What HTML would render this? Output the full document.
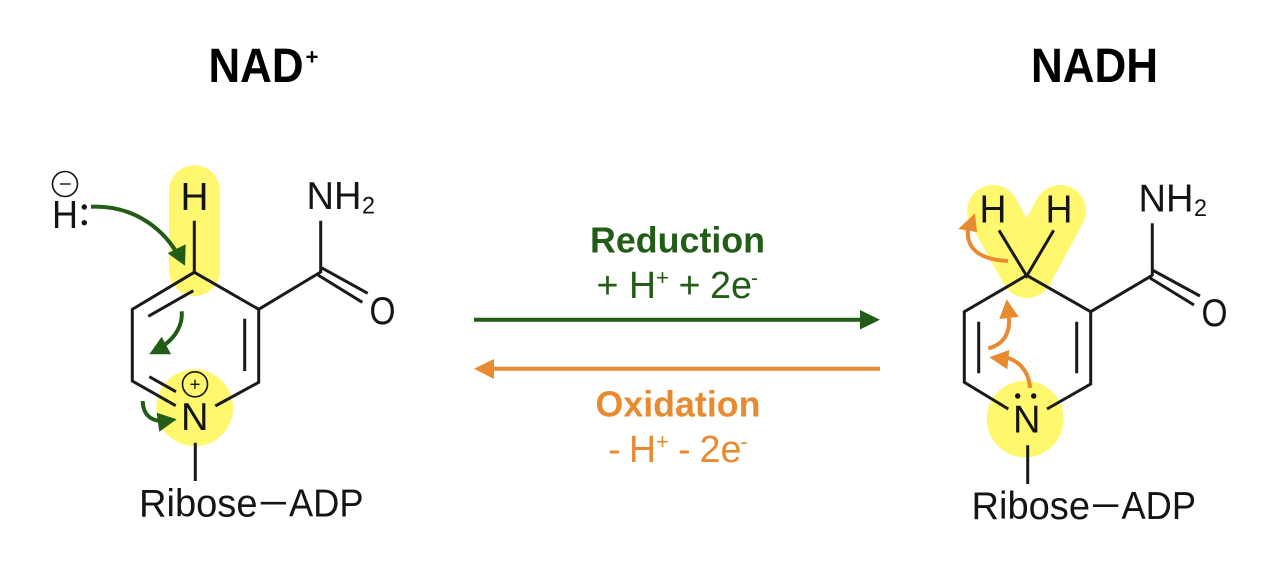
<!DOCTYPE html>
<html><head><meta charset="utf-8"><style>
html,body{margin:0;padding:0;background:#fff}
svg{display:block}
text{font-family:"Liberation Sans",sans-serif}
.k{fill:#141414;font-size:39px}
.b{stroke:#1a1a1a;stroke-width:3;fill:none;stroke-linecap:butt;stroke-linejoin:miter}
.g{fill:#225c17}.o{fill:#e88a2f}
</style></head><body>
<svg width="1280" height="568" viewBox="0 0 1280 568" xmlns="http://www.w3.org/2000/svg">
<rect width="1280" height="568" fill="#fff"/>
<!-- highlights -->
<rect x="169" y="165.3" width="51" height="130.7" rx="25.5" fill="#fff76e"/>
<circle cx="194.7" cy="407.8" r="38.4" fill="#fff76e"/>
<path d="M993,211L1027,272L1060,211" fill="none" stroke="#fff76e" stroke-width="52" stroke-linecap="round" stroke-linejoin="round"/>
<circle cx="1025.2" cy="419" r="38.4" fill="#fff76e"/>
<!-- titles -->
<text x="208.5" y="82" font-size="48" font-weight="bold" fill="#000" textLength="95" lengthAdjust="spacingAndGlyphs">NAD</text>
<text x="305.5" y="64.5" font-size="22" font-weight="bold" fill="#000" textLength="13" lengthAdjust="spacingAndGlyphs">+</text>
<text x="1031" y="82" font-size="48" font-weight="bold" fill="#000" textLength="127" lengthAdjust="spacingAndGlyphs">NADH</text>
<!-- left molecule -->
<path class="b" d="M175.7,405.7L132.3,381V309.3L194.3,272.3L258.7,309.3V382.3L215.3,406"/>
<path class="b" d="M148.3,316.3L193.3,290.7M244.7,318.7V371M149.3,376.7L176,391.7M194.3,220.7V272.3M195.3,442.7V481M258.7,309.3L320.7,272M320.7,220.7V273M320.7,267.3L367.7,293.3M318,275L362.3,302.3"/>
<text class="k" x="52" y="228" textLength="26" lengthAdjust="spacingAndGlyphs">H</text>
<circle cx="65" cy="184" r="12.5" fill="none" stroke="#141414" stroke-width="1.6"/>
<path d="M60,184H70.7" stroke="#141414" stroke-width="1.4"/>
<circle cx="84.3" cy="207" r="2.7" fill="#141414"/><circle cx="84.3" cy="222.7" r="2.7" fill="#141414"/>
<text class="k" x="180.5" y="210" textLength="28" lengthAdjust="spacingAndGlyphs">H</text>
<text class="k" x="181" y="430" textLength="27.5" lengthAdjust="spacingAndGlyphs">N</text>
<circle cx="195" cy="384.3" r="12.5" fill="none" stroke="#141414" stroke-width="1.6"/>
<path d="M190.5,384.3H199.5M195,379.8V388.8" stroke="#141414" stroke-width="1.4"/>
<text class="k" x="306.5" y="209" textLength="55" lengthAdjust="spacingAndGlyphs">NH</text>
<text x="362" y="213.3" font-size="24" fill="#141414" textLength="13" lengthAdjust="spacingAndGlyphs">2</text>
<text class="k" x="369.5" y="324" textLength="26" lengthAdjust="spacingAndGlyphs">O</text>
<text class="k" x="139" y="516.7" textLength="118.5" lengthAdjust="spacingAndGlyphs">Ribose</text>
<text class="k" x="260.7" y="513" textLength="25.3" lengthAdjust="spacingAndGlyphs">—</text>
<text class="k" x="289" y="516.7" textLength="74.5" lengthAdjust="spacingAndGlyphs">ADP</text>
<!-- left curved arrows -->
<g fill="none" stroke="#225c17" stroke-width="4">
<path d="M91,206.7C130,205 160,225 177,253"/>
<path d="M181.7,311.3C183,325 175,338 163,346"/>
<path d="M142.7,401C143,414 150,421 163,421"/>
</g>
<g class="g">
<polygon points="185,265.7 167.7,253.3 185.7,244.3"/>
<polygon points="149.3,354.3 171,354.3 161.7,336.7"/>
<polygon points="176.7,419.3 156.7,412.7 159.3,431.7"/>
</g>
<!-- center -->
<text class="g" x="590" y="252.5" font-size="36" font-weight="bold" textLength="175" lengthAdjust="spacingAndGlyphs">Reduction</text>
<text class="g" x="596.5" y="298" font-size="38" textLength="22" lengthAdjust="spacingAndGlyphs">+</text>
<text class="g" x="629" y="298" font-size="38" textLength="27" lengthAdjust="spacingAndGlyphs">H</text>
<text class="g" x="656" y="285" font-size="22" textLength="13" lengthAdjust="spacingAndGlyphs">+</text>
<text class="g" x="678.5" y="298" font-size="38" textLength="22" lengthAdjust="spacingAndGlyphs">+</text>
<text class="g" x="710" y="298" font-size="38" textLength="42" lengthAdjust="spacingAndGlyphs">2e</text>
<text class="g" x="751" y="285" font-size="22" textLength="7" lengthAdjust="spacingAndGlyphs">-</text>
<path d="M474,319.7H862" stroke="#225c17" stroke-width="4"/>
<polygon class="g" points="880,319.7 860,310 860,329.5"/>
<path d="M880,368.7H492" stroke="#e88a2f" stroke-width="4"/>
<polygon class="o" points="474,368.7 494,359 494,379"/>
<text class="o" x="595.5" y="416.7" font-size="36" font-weight="bold" textLength="165" lengthAdjust="spacingAndGlyphs">Oxidation</text>
<text class="o" x="608" y="462" font-size="38" textLength="12.6" lengthAdjust="spacingAndGlyphs">-</text>
<text class="o" x="629" y="462" font-size="38" textLength="27" lengthAdjust="spacingAndGlyphs">H</text>
<text class="o" x="656" y="449" font-size="22" textLength="13" lengthAdjust="spacingAndGlyphs">+</text>
<text class="o" x="678" y="462" font-size="38" textLength="12.6" lengthAdjust="spacingAndGlyphs">-</text>
<text class="o" x="699.5" y="462" font-size="38" textLength="42" lengthAdjust="spacingAndGlyphs">2e</text>
<text class="o" x="740.5" y="449" font-size="22" textLength="7" lengthAdjust="spacingAndGlyphs">-</text>
<!-- right molecule -->
<path class="b" d="M1008.3,409L964.3,382.3V311.7L1026.7,275.3L1090.7,311.7V384L1047,409"/>
<path class="b" d="M978.7,321.7V373.3M1076.7,321.7V373.3M999,230.3L1026.7,276L1053.7,230.3M1027.7,445.3V484M1090.7,311.7L1152.3,275.3M1152.3,223.3V276M1152.3,270L1200,296M1150,278L1194,305"/>
<text class="k" x="979.5" y="222.7" textLength="27" lengthAdjust="spacingAndGlyphs">H</text>
<text class="k" x="1045.5" y="222.7" textLength="27" lengthAdjust="spacingAndGlyphs">H</text>
<text class="k" x="1013" y="432.3" textLength="27.5" lengthAdjust="spacingAndGlyphs">N</text>
<circle cx="1017.7" cy="396" r="2.7" fill="#141414"/><circle cx="1033.7" cy="396" r="2.7" fill="#141414"/>
<text class="k" x="1138.5" y="211.7" textLength="55" lengthAdjust="spacingAndGlyphs">NH</text>
<text x="1194" y="216" font-size="24" fill="#141414" textLength="13" lengthAdjust="spacingAndGlyphs">2</text>
<text class="k" x="1201.5" y="326" textLength="26" lengthAdjust="spacingAndGlyphs">O</text>
<text class="k" x="971.5" y="519" textLength="118.5" lengthAdjust="spacingAndGlyphs">Ribose</text>
<text class="k" x="1093" y="515.3" textLength="25.3" lengthAdjust="spacingAndGlyphs">—</text>
<text class="k" x="1121.5" y="519" textLength="74.5" lengthAdjust="spacingAndGlyphs">ADP</text>
<!-- right curved arrows -->
<g fill="none" stroke="#e88a2f" stroke-width="4">
<path d="M1008,261C985,260 966,252 968,230"/>
<path d="M988.3,348.3C1002,345 1010,335 1009,318"/>
<path d="M1030,388C1029,372 1020,362 1008,358"/>
</g>
<g class="o">
<polygon points="975,213.3 958.3,229 977,232"/>
<polygon points="1006.7,299.3 999.3,319 1018.7,317"/>
<polygon points="989.3,357.3 1009.3,350 1007.3,369.3"/>
</g>
</svg>
</body></html>
